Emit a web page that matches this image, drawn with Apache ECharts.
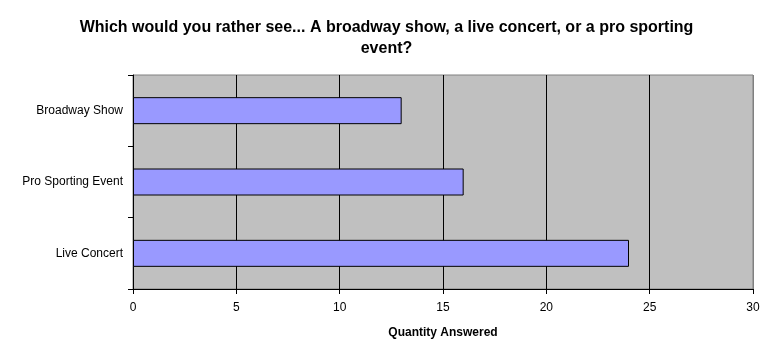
<!DOCTYPE html>
<html>
<head>
<meta charset="utf-8">
<script src="https://cdn.jsdelivr.net/npm/echarts@6/dist/echarts.min.js"></script>
<style>
  html, body { margin: 0; padding: 0; background: #fff; }
  #chart { width: 773px; height: 354px; }
</style>
</head>
<body>
<div id="chart"></div>
<script>
var categories = ['Live Concert', 'Pro Sporting Event', 'Broadway Show'];
var answers = [24, 16, 13];
var xTicks = { min: 0, max: 30, interval: 5 };

var myChart = echarts.init(document.getElementById('chart'));

var option = {
  animation: false,
  title: {
    text: 'Which would you rather see... A broadway show, a live concert, or a pro sporting\nevent?',
    left: 'center',
    top: 12,
    textStyle: {
      fontFamily: 'Liberation Sans, Arial',
      fontSize: 16,
      fontWeight: 'bold',
      color: '#000',
      lineHeight: 21
    }
  },
  grid: {
    left: 133,
    top: 75,
    width: 620,
    height: 214,
    show: true,
    backgroundColor: '#c0c0c0',
    borderColor: '#808080',
    borderWidth: 1
  },
  xAxis: {
    type: 'value',
    min: xTicks.min,
    max: xTicks.max,
    interval: xTicks.interval,
    name: 'Quantity Answered',
    nameLocation: 'middle',
    nameGap: 38,
    nameTextStyle: {
      fontFamily: 'Liberation Sans, Arial',
      fontSize: 12,
      fontWeight: 'bold',
      color: '#000'
    },
    axisLine: { show: true, lineStyle: { color: '#000', width: 1 } },
    axisTick: { show: true, length: 5, lineStyle: { color: '#000' } },
    axisLabel: {
      fontFamily: 'Liberation Sans, Arial',
      fontSize: 12,
      color: '#000',
      margin: 13
    },
    splitLine: {
      show: true,
      lineStyle: {
        color: ['#000', '#000', '#000', '#000', '#000', '#000', '#808080'],
        width: 1
      }
    }
  },
  yAxis: {
    type: 'category',
    data: categories,
    axisLine: { show: true, lineStyle: { color: '#000', width: 1 } },
    axisTick: { show: true, length: 5, alignWithLabel: false, lineStyle: { color: '#000' } },
    axisLabel: {
      fontFamily: 'Liberation Sans, Arial',
      fontSize: 12,
      color: '#000',
      margin: 10
    },
    splitLine: { show: false }
  },
  series: [
    {
      name: 'Quantity Answered',
      type: 'bar',
      data: answers,
      barWidth: 27,
      itemStyle: {
        color: '#9999ff',
        borderColor: '#000',
        borderWidth: 1
      }
    }
  ]
};

myChart.setOption(option);
</script>
</body>
</html>
